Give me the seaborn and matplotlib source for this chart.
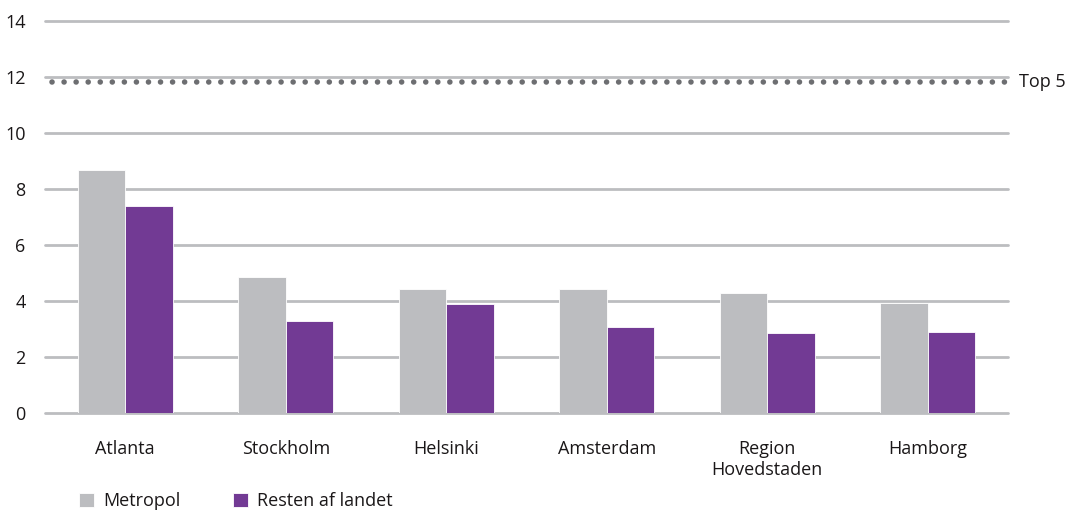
import pandas as pd
import matplotlib.pyplot as plt
import seaborn as sns

sns.set_style("white")
plt.rcParams["font.family"] = ["Open Sans", "DejaVu Sans"]

# data
cities = ["Atlanta", "Stockholm", "Helsinki", "Amsterdam", "Region\nHovedstaden", "Hamborg"]
metropol = [8.67, 4.87, 4.44, 4.44, 4.30, 3.95]
resten = [7.38, 3.29, 3.90, 3.08, 2.87, 2.90]
series_names = ["Metropol", "Resten af landet"]
top5 = 11.8
yticks = [0, 2, 4, 6, 8, 10, 12, 14]

df = pd.DataFrame({
    "By": cities * 2,
    "Serie": [series_names[0]] * len(cities) + [series_names[1]] * len(cities),
    "Vaerdi": metropol + resten,
})

text_color = "#1A1718"
grid_color = "#BCBDC0"

fig = plt.figure(figsize=(10.82, 5.13), dpi=100)
ax = fig.add_axes([0.0416, 0.1943, 0.89, 0.7653])

sns.barplot(data=df, x="By", y="Vaerdi", hue="Serie", ax=ax,
            palette=["#BCBDC0", "#723A94"], width=0.59, saturation=1,
            edgecolor="white", linewidth=0.6, zorder=2)

for y in yticks:
    ax.axhline(y, color=grid_color, linewidth=2, zorder=0, clip_on=False)

# dotted "Top 5" reference line
ax.axhline(top5, color="#6D6E71", linewidth=4.0, linestyle=(0, (0.01, 2.16)),
           dash_capstyle="round", zorder=1, xmin=0.007, xmax=0.997)
ax.text(1.011, top5, "Top 5", transform=ax.get_yaxis_transform(),
        va="center", ha="left", fontsize=13, color=text_color)

ax.set_xlim(-0.5, len(cities) - 0.5)
ax.set_ylim(0, 14)
ax.set_yticks(yticks)
ax.set_xlabel("")
ax.set_ylabel("")
ax.tick_params(axis="y", length=0, pad=14, labelsize=13, labelcolor=text_color)
ax.tick_params(axis="x", length=0, pad=19, labelsize=13, labelcolor=text_color)
sns.despine(ax=ax, left=True, bottom=True)

handles, labels = ax.get_legend_handles_labels()
ax.get_legend().remove()
fig.legend(handles, labels, loc="lower left", bbox_to_anchor=(0.058, -0.026),
           ncol=2, frameon=False, fontsize=13, handlelength=0.85, handleheight=0.85,
           handletextpad=0.5, columnspacing=2.9, labelcolor=text_color)

fig.savefig("out.png", dpi=100)
